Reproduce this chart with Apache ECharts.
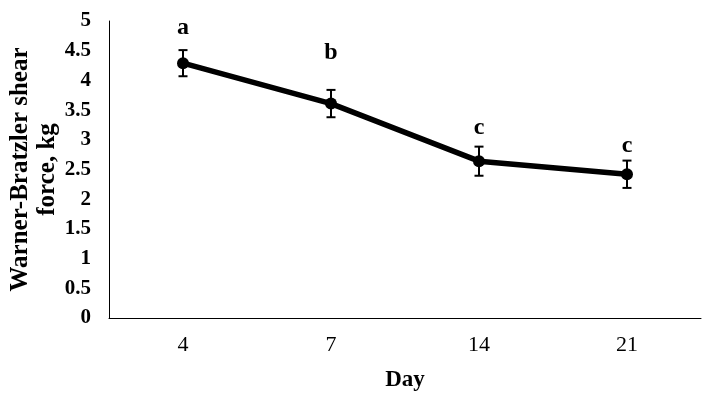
<!DOCTYPE html>
<html><head><meta charset="utf-8">
<script src="https://cdn.jsdelivr.net/npm/echarts@6/dist/echarts.min.js"></script>
<style>html,body{margin:0;padding:0;background:#fff}#c{width:709px;height:403px}</style>
</head><body><div id="c"></div>
<script>
const days = ['4', '7', '14', '21'];
const shearForce = [4.29, 3.61, 2.64, 2.42];
const errors = [0.22, 0.23, 0.245, 0.23];
const letters = ['a', 'b', 'c', 'c'];
const letterLevels = [4.88, 4.46, 3.2, 2.90];
const yTicks = {min: 0, max: 5, interval: 0.5};

const chart = echarts.init(document.getElementById('c'));
const serif = '"Liberation Serif", "Times New Roman", serif';
chart.setOption({
  animation: false,
  backgroundColor: '#fff',
  grid: {left: 109, right: 8, top: 21, bottom: 85, containLabel: false, outerBoundsMode: 'none'},
  xAxis: {
    type: 'category', data: days, boundaryGap: true,
    axisLine: {lineStyle: {color: '#000', width: 1}},
    axisTick: {show: false},
    axisLabel: {color: '#000', fontFamily: serif, fontSize: 22, margin: 16},
    name: 'Day', nameLocation: 'middle', nameGap: 51, nameMoveOverlap: false,
    nameTextStyle: {color: '#000', fontFamily: serif, fontSize: 23, fontWeight: 'bold'}
  },
  yAxis: {
    type: 'value', min: yTicks.min, max: yTicks.max, interval: yTicks.interval,
    axisLine: {show: true, lineStyle: {color: '#000', width: 1}},
    axisTick: {show: false},
    splitLine: {show: false},
    axisLabel: {color: '#000', fontFamily: serif, fontSize: 21, fontWeight: 'bold', margin: 18},
    name: 'Warner-Bratzler shear\nforce, kg', nameLocation: 'middle', nameGap: 48, nameMoveOverlap: false,
    nameTextStyle: {color: '#000', fontFamily: serif, fontSize: 25, fontWeight: 'bold', lineHeight: 27}
  },
  series: [
    {
      type: 'line', data: shearForce, symbol: 'circle', symbolSize: 12,
      lineStyle: {color: '#000', width: 5.5}, itemStyle: {color: '#000'}, z: 3
    },
    {
      type: 'custom', z: 4,
      data: days.map((d, i) => [i, shearForce[i] - errors[i], shearForce[i] + errors[i], letterLevels[i]]),
      renderItem: function (params, api) {
        const i = api.value(0);
        const lo = api.coord([i, api.value(1)]);
        const hi = api.coord([i, api.value(2)]);
        const lt = api.coord([i, api.value(3)]);
        const x = lo[0], hw = 4.5;
        const st = {stroke: '#000', lineWidth: 2};
        return {
          type: 'group',
          children: [
            {type: 'line', shape: {x1: x, y1: lo[1], x2: x, y2: hi[1]}, style: st},
            {type: 'line', shape: {x1: x - hw, y1: lo[1], x2: x + hw, y2: lo[1]}, style: st},
            {type: 'line', shape: {x1: x - hw, y1: hi[1], x2: x + hw, y2: hi[1]}, style: st},
            {type: 'text', style: {text: letters[params.dataIndex], x: x, y: lt[1],
              textAlign: 'center', textVerticalAlign: 'middle', fill: '#000',
              font: 'bold 24px ' + serif}}
          ]
        };
      }
    }
  ]
});
</script></body></html>
